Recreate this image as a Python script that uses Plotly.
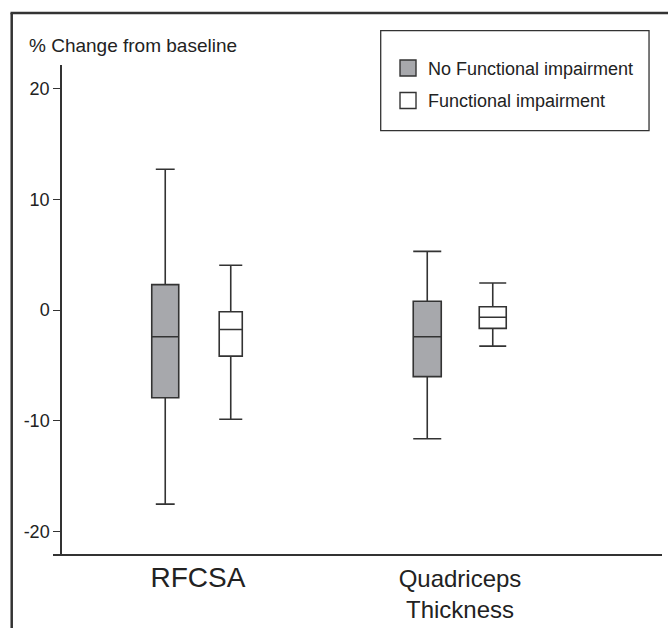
import plotly.graph_objects as go

# ---- data ----
categories = ["RFCSA", "Quadriceps<br>Thickness"]
series_names = ["No Functional impairment", "Functional impairment"]

no_imp_lower = [-17.5, -11.6]
no_imp_q1 = [-7.9, -6.0]
no_imp_median = [-2.4, -2.4]
no_imp_q3 = [2.3, 0.8]
no_imp_upper = [12.7, 5.3]

imp_lower = [-9.85, -3.25]
imp_q1 = [-4.15, -1.65]
imp_median = [-1.75, -0.65]
imp_q3 = [-0.15, 0.3]
imp_upper = [4.05, 2.45]

y_ticks = [-20, -10, 0, 10, 20]
y_ticklabels = ["-20", "-10", "0", "10", "20"]

# ---- styling ----
FONT = "Liberation Sans, Arial, sans-serif"
DARK = "#333333"
GRAY_FILL = "#a7a8ac"
group_pos = [1, 2]
offset = 0.125
box_widths = {0: [0.103, 0.107], 1: [0.088, 0.103]}
whisker_widths = {0: [0.7, 1.0], 1: [1.0, 1.0]}

fig = go.Figure()

series = [
    (series_names[0], GRAY_FILL, no_imp_lower, no_imp_q1, no_imp_median, no_imp_q3, no_imp_upper, -offset),
    (series_names[1], "white", imp_lower, imp_q1, imp_median, imp_q3, imp_upper, offset),
]

for s_idx, (name, fill, lo, q1, med, q3, up, off) in enumerate(series):
    for g_idx in range(len(categories)):
        fig.add_trace(go.Box(
            x=[group_pos[g_idx] + off],
            lowerfence=[lo[g_idx]], q1=[q1[g_idx]], median=[med[g_idx]],
            q3=[q3[g_idx]], upperfence=[up[g_idx]],
            name=name, legendgroup=name, showlegend=False,
            fillcolor=fill, line=dict(color=DARK, width=1.6),
            width=box_widths[s_idx][g_idx],
            whiskerwidth=whisker_widths[s_idx][g_idx],
            boxpoints=False, hoverinfo="skip",
        ))
    # legend entry (square swatch)
    fig.add_trace(go.Scatter(
        x=[None], y=[None], mode="markers", name=name, legendgroup=name,
        marker=dict(symbol="square", size=24, color=fill,
                    line=dict(color=DARK, width=1.4)),
        showlegend=True, hoverinfo="skip",
    ))

ticktext_x = ["<span style='font-size:28px'>%s</span>" % categories[0], categories[1]]

fig.update_layout(
    width=668, height=628,
    margin=dict(l=53, r=6, t=65, b=74, autoexpand=False),
    paper_bgcolor="white", plot_bgcolor="white",
    font=dict(family=FONT, color="#222222"),
    showlegend=True,
    legend=dict(
        x=0.5501, y=1.031, xanchor="left", yanchor="top",
        bgcolor="rgba(0,0,0,0)", borderwidth=0,
        font=dict(size=18, family=FONT, color="#222222"),
        traceorder="grouped", tracegroupgap=6,
    ),
    xaxis=dict(
        domain=[0, 1], range=[0.4466, 2.771],
        tickvals=group_pos, ticktext=ticktext_x,
        ticks="", showgrid=False, zeroline=False,
        showline=True, linecolor=DARK, linewidth=1.5,
        tickfont=dict(size=24, family=FONT, color="#222222"),
        ticklabelstandoff=2, automargin=False,
    ),
    yaxis=dict(
        range=[-22.0, 22.11], anchor="free", position=8 / 609,
        tickvals=y_ticks, ticktext=y_ticklabels,
        ticks="outside", ticklen=7, tickwidth=1.2, tickcolor=DARK,
        showgrid=False, zeroline=False,
        showline=True, linecolor=DARK, linewidth=1.5,
        tickfont=dict(size=18, family=FONT, color="#222222"),
        automargin=False,
    ),
    annotations=[dict(
        text="% Change from baseline", xref="paper", yref="paper",
        x=-0.0432, y=1.0389, xanchor="left", yanchor="middle",
        showarrow=False, font=dict(size=19, family=FONT, color="#222222"),
    )],
    shapes=[
        # outer frame (left and top edges)
        dict(type="line", xref="paper", yref="paper", x0=-0.0678, x1=-0.0678,
             y0=-0.2, y1=1.1063, line=dict(color=DARK, width=2.5)),
        dict(type="line", xref="paper", yref="paper", x0=-0.0698, x1=1.05,
             y0=1.1063, y1=1.1063, line=dict(color=DARK, width=2.5)),
        # legend frame
        dict(type="rect", xref="paper", yref="paper", x0=0.5381, x1=0.9787,
             y0=0.8656, y1=1.0701, line=dict(color=DARK, width=1.3)),
    ],
)

fig.write_html(
    "out.html",
    config={"displayModeBar": False},
    post_script="document.body.style.margin='0';document.body.style.overflow='hidden';",
)
